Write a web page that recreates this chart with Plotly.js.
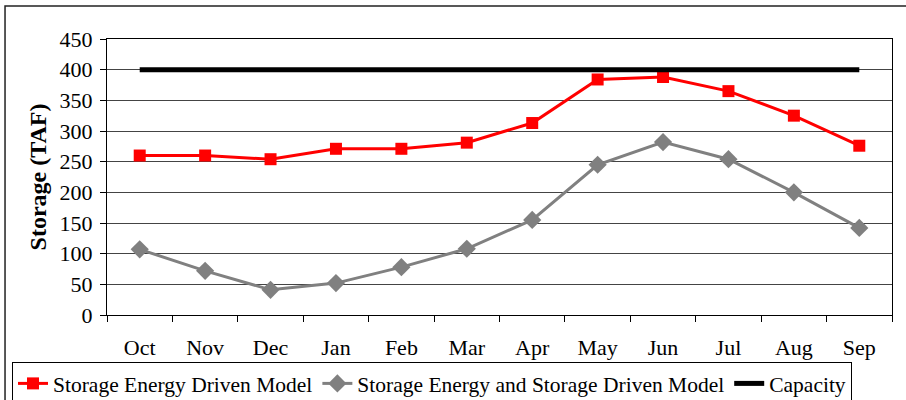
<!DOCTYPE html>
<html><head><meta charset="utf-8">
<script src="https://cdn.plot.ly/plotly-3.0.1.min.js"></script>
<style>body{margin:0;padding:0;background:#fff}#chart{width:906px;height:400px}</style>
</head><body><div id="chart"></div>
<script>
const months = ["Oct","Nov","Dec","Jan","Feb","Mar","Apr","May","Jun","Jul","Aug","Sep"];
const energyDriven = [260,260,254,271,271,281,313,384,388,365,325,276];
const energyStorageDriven = [107,72,41,52,78,108,155,245,282,254,200,142];
const capacity = [400,400,400,400,400,400,400,400,400,400,400,400];
const yTicks = [0,50,100,150,200,250,300,350,400,450];

const font = {family:"Liberation Serif", color:"#000"};
const traces = [
  {x:months, y:energyDriven, name:"Storage Energy Driven Model", type:"scatter", mode:"lines+markers",
   line:{color:"#ff0000", width:3}, marker:{symbol:"square", size:12, color:"#ff0000"}},
  {x:months, y:energyStorageDriven, name:"Storage Energy and Storage Driven Model", type:"scatter", mode:"lines+markers",
   line:{color:"#808080", width:3}, marker:{symbol:"diamond", size:14, color:"#808080"}},
  {x:months, y:capacity, name:"Capacity", type:"scatter", mode:"lines",
   line:{color:"#000000", width:5}}
];
const layout = {
  width:906, height:400,
  margin:{l:107, r:14, t:39, b:85, autoexpand:false},
  paper_bgcolor:"#fff", plot_bgcolor:"#fff",
  font:Object.assign({size:22}, font),
  showlegend:true,
  legend:{orientation:"h", x:-0.121, xanchor:"left", y:-0.17, yanchor:"top",
    bordercolor:"#000", borderwidth:1, bgcolor:"#fff",
    font:Object.assign({size:21.5}, font), traceorder:"normal", itemwidth:30, tracegroupgap:0},
  xaxis:{type:"category", range:[-0.5, months.length-0.5], showline:true, linecolor:"#000", linewidth:1, mirror:true,
    ticks:"outside", ticklen:6, tickcolor:"#000", tickson:"boundaries", showgrid:false,
    tickfont:Object.assign({size:22}, font), ticklabelstandoff:13, fixedrange:true, automargin:false},
  yaxis:{range:[0,450], tickvals:yTicks, showline:true, linecolor:"#000", linewidth:1, mirror:true,
    ticks:"outside", ticklen:6, tickcolor:"#000", showgrid:true, gridcolor:"#444", gridwidth:1,
    zeroline:false, tickfont:Object.assign({size:22}, font), ticklabelstandoff:3, automargin:false,
    title:{text:"<b>Storage (TAF)</b>", font:Object.assign({size:24}, font), standoff:6}},
  shapes:[{type:"rect", xref:"paper", yref:"paper", x0:-0.1299, x1:1.0357, y0:-0.4, y1:1.1196,
    line:{color:"#222", width:1.5}, fillcolor:"rgba(0,0,0,0)", layer:"below"}]
};
Plotly.newPlot("chart", traces, layout, {displayModeBar:false, staticPlot:true});
</script></body></html>
